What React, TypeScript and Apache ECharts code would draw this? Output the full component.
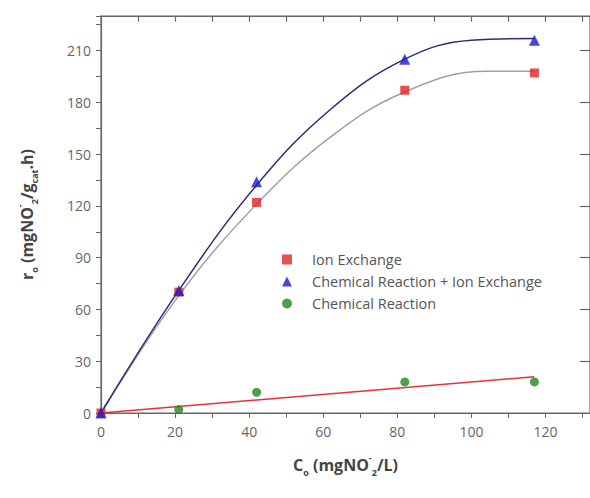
import React, { useEffect, useRef } from "react";
import * as echarts from "echarts";

const ionExchange: [number, number][] = [[0, 0], [21, 70], [42, 122], [82, 187], [117, 197]];
const chemIon: [number, number][] = [[0, 0], [21, 71], [42, 134], [82, 205], [117, 216]];
const chemical: [number, number][] = [[21, 2], [42, 12], [82, 18], [117, 18]];

const chemIonFit: [number, number][] = [[0, 0], [21, 71], [42, 132], [62, 176], [82, 205], [100, 216], [117, 217]];
const ionFit: [number, number][] = [[0, 0], [21, 68], [42, 121], [62, 160], [82, 186], [104, 198], [117, 198]];
const chemFit: [number, number][] = [[0, 0], [117, 21]];

const X_MAX = 132;
const Y_MAX = 230;
const FRAME_TOP = 229.7;
const topTicks = [10, 20, 30, 40, 50, 60, 70, 80, 90, 100, 110, 120, 130];
const rightTicks = [30, 60, 90, 120, 150, 180, 210];

const FONT = "Open Sans";

export default function App() {
  const ref = useRef<HTMLDivElement>(null);
  useEffect(() => {
    const chart = echarts.init(ref.current!, undefined, { renderer: "svg" });
    const axisLine = () => ({ show: true, onZero: false, lineStyle: { color: "#666", width: 1.2 } });
    const axisTick = () => ({ show: true, length: 5, lineStyle: { color: "#666" } });
    const minorTick = () => ({ show: true, splitNumber: 2, length: 5, lineStyle: { color: "#666" } });
    const rich = {
      b: { fontFamily: FONT, fontSize: 16, fontWeight: "bold", color: "#444", lineHeight: 24 },
      s: { fontFamily: FONT, fontSize: 9, fontWeight: "bold", color: "#444", verticalAlign: "bottom", lineHeight: 24 },
      p: { fontFamily: FONT, fontSize: 9, fontWeight: "bold", color: "#444", verticalAlign: "top", lineHeight: 24 },
    };
    const frameLines: any[] = [
      [{ coord: [0, FRAME_TOP] }, { coord: [X_MAX, FRAME_TOP] }],
      ...topTicks.map((v) => [{ coord: [v, FRAME_TOP] }, { coord: [v, FRAME_TOP - 3] }]),
      ...rightTicks.map((v) => [{ coord: [X_MAX - 2.7, v] }, { coord: [X_MAX, v] }]),
    ];
    chart.setOption({
      animation: false,
      backgroundColor: "#fff",
      grid: { left: 101, top: 16, right: -4, bottom: 85, show: true, borderColor: "#666", borderWidth: 1.2, backgroundColor: "transparent" },
      legend: {
        orient: "vertical",
        left: 277,
        top: 247,
        itemGap: 7,
        itemWidth: 10,
        itemHeight: 10,
        textStyle: { fontFamily: FONT, fontSize: 14.5, color: "#555", padding: [0, 0, 0, 15] },
        data: ["Ion Exchange", "Chemical Reaction + Ion Exchange", "Chemical Reaction"],
      },
      xAxis: {
        type: "value", min: 0, max: X_MAX, interval: 20,
        axisLine: axisLine(), axisTick: axisTick(), minorTick: minorTick(), splitLine: { show: false },
        axisLabel: { fontFamily: FONT, fontSize: 14, color: "#666", margin: 11, showMaxLabel: false },
        name: "{b|C}{s|o}{b| (mgNO}{p|-}{s|2}{b|/L)}",
        nameLocation: "middle", nameGap: 40,
        nameTextStyle: { rich },
      },
      yAxis: {
        type: "value", min: 0, max: Y_MAX, interval: 30,
        axisLine: axisLine(), axisTick: axisTick(), minorTick: minorTick(), splitLine: { show: false },
        axisLabel: { fontFamily: FONT, fontSize: 14, color: "#666", margin: 10, showMaxLabel: false },
        name: "{b|r}{s|o}{b| (mgNO}{p|-}{s|2}{b|/g}{s|cat}{b|.h)}",
        nameLocation: "middle", nameGap: 62,
        nameTextStyle: { rich },
      },
      series: [
        {
          type: "line", name: "fit2", data: ionFit, smooth: 0.4, symbol: "none", lineStyle: { color: "#a0a0a0", width: 1.5 }, z: 1,
          clip: false,
          markLine: {
            silent: true, symbol: ["none", "none"], label: { show: false }, animation: false,
            lineStyle: { color: "#666", width: 1.2, type: "solid" },
            data: frameLines,
          },
        },
        { type: "line", name: "fit1", data: chemIonFit, smooth: 0.4, symbol: "none", lineStyle: { color: "#2b2b7a", width: 1.5 }, z: 1 },
        { type: "line", name: "fit3", data: chemFit, symbol: "none", lineStyle: { color: "#e8303a", width: 1.5 }, z: 1 },
        { type: "scatter", name: "Ion Exchange", data: ionExchange, symbol: "rect", symbolSize: 9, itemStyle: { color: "#e02424" }, z: 3 },
        { type: "scatter", name: "Chemical Reaction + Ion Exchange", data: chemIon, symbol: "triangle", symbolSize: 11, itemStyle: { color: "#1a1acc" }, z: 4 },
        { type: "scatter", name: "Chemical Reaction", data: chemical, symbol: "circle", symbolSize: 9, itemStyle: { color: "#1e8a1e" }, z: 3 },
      ],
    });
    return () => chart.dispose();
  }, []);
  return <div ref={ref} style={{ width: 590, height: 498, position: "absolute", left: 0, top: 0 }} />;
}
